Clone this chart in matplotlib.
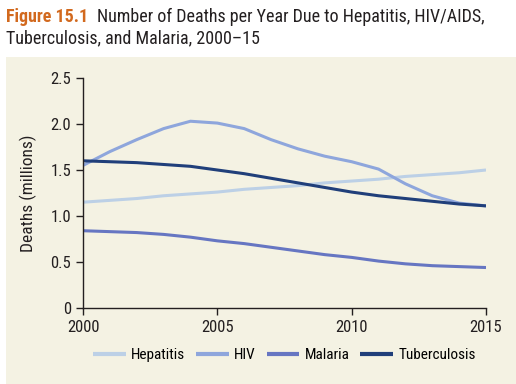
import matplotlib
matplotlib.use("Agg")
import matplotlib.pyplot as plt
from matplotlib.patches import Rectangle

plt.rcParams['font.family'] = ['Roboto Condensed', 'DejaVu Sans']

years = list(range(2000, 2016))
hepatitis = [1.15, 1.17, 1.19, 1.22, 1.24, 1.26, 1.29, 1.31,
             1.33, 1.36, 1.38, 1.40, 1.43, 1.45, 1.47, 1.50]
hiv = [1.55, 1.70, 1.83, 1.95, 2.03, 2.01, 1.95, 1.83,
       1.73, 1.65, 1.59, 1.51, 1.35, 1.22, 1.14, 1.11]
malaria = [0.84, 0.83, 0.82, 0.80, 0.77, 0.73, 0.70, 0.66,
           0.62, 0.58, 0.55, 0.51, 0.48, 0.46, 0.45, 0.44]
tuberculosis = [1.60, 1.59, 1.58, 1.56, 1.54, 1.50, 1.46, 1.41,
                1.36, 1.31, 1.26, 1.22, 1.19, 1.16, 1.13, 1.11]

series = [("Hepatitis", hepatitis, "#bcd0e6"),
          ("HIV", hiv, "#8ea6dc"),
          ("Malaria", malaria, "#6676c2"),
          ("Tuberculosis", tuberculosis, "#203f7a")]

bg = "#f4f2e3"
ink = "#231f20"

fig = plt.figure(figsize=(5.16, 3.84), dpi=100)
fig.patch.set_facecolor("white")
fig.patches.append(Rectangle((6 / 516, 0), 1, 1 - 57 / 384, transform=fig.transFigure,
                             facecolor=bg, edgecolor="none", zorder=-5))

fig.text(6 / 516, 1 - 22 / 384, "Figure 15.1", color="#d2691e", fontsize=13,
         fontweight="bold")
fig.text(97 / 516, 1 - 22 / 384, "Number of Deaths per Year Due to Hepatitis, HIV/AIDS,",
         color=ink, fontsize=13)
fig.text(6 / 516, 1 - 43 / 384, "Tuberculosis, and Malaria, 2000\u201315",
         color=ink, fontsize=13)

ax = fig.add_axes([83 / 516, 1 - 308 / 384, 403 / 516, 230 / 384])
ax.set_facecolor("none")

for name, vals, col in series:
    ax.plot(years, vals, color=col, lw=2.2, label=name, solid_capstyle="butt")

ax.set_xlim(2000, 2015)
ax.set_ylim(0, 2.5)
ax.set_xticks([2000, 2005, 2010, 2015])
ax.set_yticks([0, 0.5, 1.0, 1.5, 2.0, 2.5])
ax.set_yticklabels(["0", "0.5", "1.0", "1.5", "2.0", "2.5"])
for s in ["top", "right"]:
    ax.spines[s].set_visible(False)
for s in ["left", "bottom"]:
    ax.spines[s].set_color(ink)
    ax.spines[s].set_linewidth(1)
ax.tick_params(axis="both", colors=ink, labelsize=12, length=5, width=1)
ax.set_ylabel("Deaths (millions)", fontsize=12.5, color=ink, labelpad=10)

leg = ax.legend(loc="upper center", bbox_to_anchor=(0.5, -0.115), ncol=4, frameon=False,
                fontsize=11, handlelength=2.15, columnspacing=0.7, handletextpad=0.35)
for h in leg.get_lines():
    h.set_linewidth(3)

fig.savefig("out.png", dpi=100)
